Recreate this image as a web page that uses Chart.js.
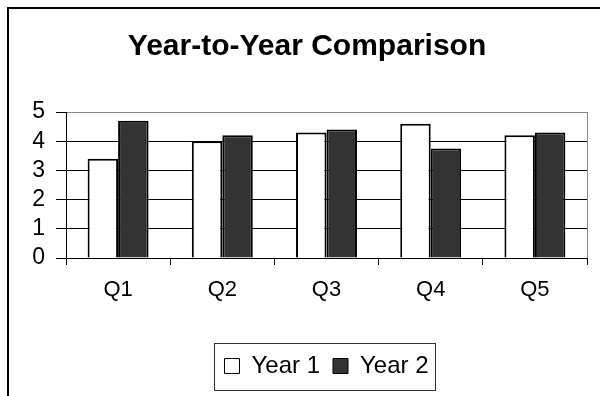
<!DOCTYPE html>
<html lang="en">
<head>
  <meta charset="UTF-8">
  <title>Year-to-Year Comparison</title>
  <script src="https://cdn.jsdelivr.net/npm/chart.js"></script>
  <style>
    html, body { margin:0; padding:0; background:#fff; }
    .frame { position:absolute; left:7px; top:7px; width:640px; height:420px; border-left:2px solid #000; border-top:2px solid #000; }
    .wrap { position:absolute; left:0; top:0; width:600px; height:396px; }
  </style>
</head>
<body>
  <div class="frame"></div>
  <div class="wrap"><canvas id="chart" width="600" height="396"></canvas></div>
<script>
const categories = ["Q1","Q2","Q3","Q4","Q5"];
const year1 = [3.4, 4.0, 4.3, 4.6, 4.2];
const year2 = [4.7, 4.2, 4.4, 3.75, 4.3];
const yTicks = [0, 1, 2, 3, 4, 5];

const font = "'Liberation Sans', Arial, sans-serif";

// gray border on the right of the plot area + box round the legend
const framePlugin = {
  id: 'frames',
  afterDraw(chart){
    const c = chart.ctx, a = chart.chartArea;
    c.save();
    c.strokeStyle = '#888';
    c.lineWidth = 1;
    c.beginPath();
    c.moveTo(Math.round(a.right)+0.5, a.top);
    c.lineTo(Math.round(a.right)+0.5, a.bottom);
    c.stroke();
    const hb = chart.legend.legendHitBoxes;
    if(hb && hb.length){
      const l = Math.min(...hb.map(h=>h.left));
      const r = Math.max(...hb.map(h=>h.left+h.width));
      const mid = hb[0].top + hb[0].height/2;
      c.strokeStyle = '#333';
      c.strokeRect(Math.round(l-10)+0.5, Math.round(mid-23)+0.5, Math.round(r-l+17), 47);
    }
    c.restore();
  }
};

new Chart(document.getElementById('chart'), {
  type: 'bar',
  data: {
    labels: categories,
    datasets: [
      { label:'Year 1', data:year1, backgroundColor:'#fff', borderColor:'#000', borderWidth:2,
        categoryPercentage:0.585, barPercentage:1 },
      { label:'Year 2', data:year2, backgroundColor:'#333', borderColor:'#000', borderWidth:2,
        categoryPercentage:0.585, barPercentage:1 }
    ]
  },
  options: {
    responsive:false,
    animation:false,
    layout:{ padding:{ left:27, right:13, top:0, bottom:8 } },
    plugins:{
      title:{ display:true, text:'Year-to-Year Comparison', color:'#000',
        font:{ family:font, size:30, weight:'bold' }, padding:{ top:29, bottom:47 } },
      legend:{ position:'bottom', fullSize:false,
        labels:{ color:'#000', font:{ family:font, size:24 }, boxWidth:15, boxHeight:15, padding:13,
          generateLabels:(chart)=>Chart.defaults.plugins.legend.labels.generateLabels(chart)
            .map(l=>({...l, lineWidth:1})) } },
      tooltip:{ enabled:false }
    },
    scales:{
      x:{
        offset:true,
        grid:{ display:true, drawOnChartArea:false, drawTicks:true, tickLength:7, tickColor:'#000' },
        border:{ color:'#000', width:1 },
        ticks:{ color:'#000', font:{ family:font, size:22 }, padding:12 },
        afterFit:(s)=>{ s.height = 83; }
      },
      y:{
        min:yTicks[0], max:yTicks[yTicks.length-1],
        grid:{ color:(c)=>c.tick && c.tick.value===yTicks[yTicks.length-1] ? '#888' : '#000',
          tickLength:10, tickColor:'#000' },
        border:{ color:'#000', width:1 },
        ticks:{ stepSize:1, autoSkip:false, color:'#000', font:{ family:font, size:23 }, padding:11 },
        afterFit:(s)=>{ s.width = 39; }
      }
    }
  },
  plugins:[framePlugin]
});
</script>
</body>
</html>
